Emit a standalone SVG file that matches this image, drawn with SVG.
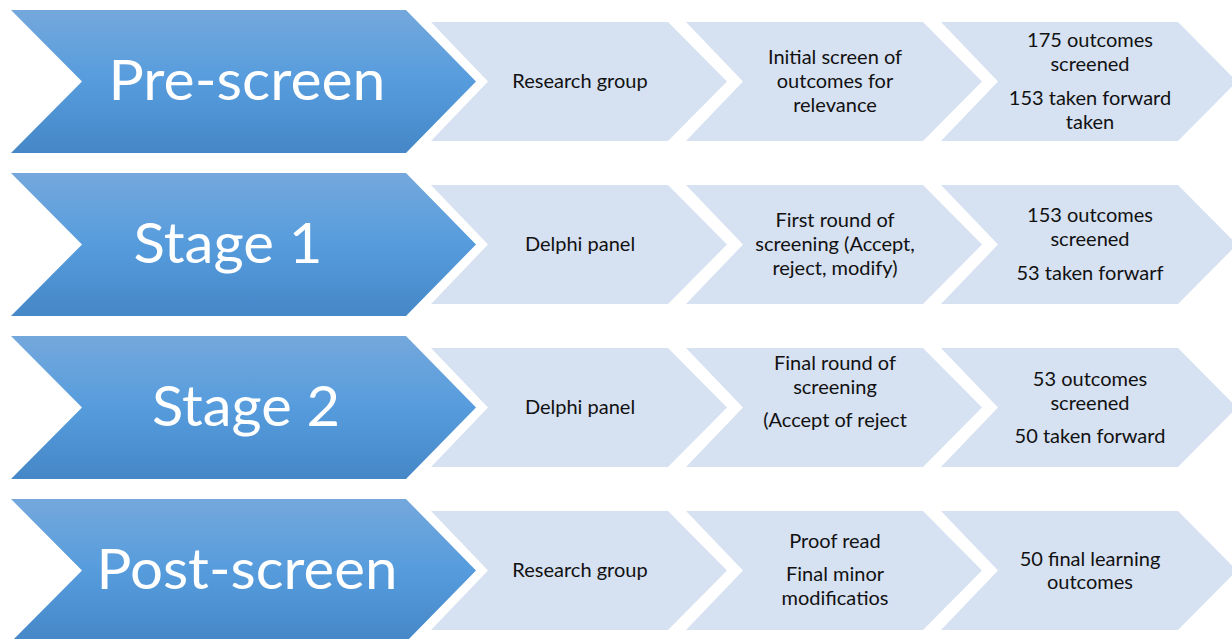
<svg xmlns="http://www.w3.org/2000/svg" width="1232" height="639" viewBox="0 0 1232 639">
<defs>
<linearGradient id="blueGrad" x1="0" y1="0" x2="0" y2="1">
<stop offset="0" stop-color="#74A8DC"/>
<stop offset="0.5" stop-color="#569CDD"/>
<stop offset="1" stop-color="#4587C7"/>
</linearGradient>
<polygon id="bigChev" points="11,10 406,10 476,81.5 406,153 11,153 82,81.5"/>
<polygon id="lightChev" points="0,22 237,22 296,81.5 237,141 0,141 57,81.5"/>
</defs>
<style>
.big{fill:url(#blueGrad);}
.light{fill:#D6E1F1;}
.bigtxt{font-family:Lato,"Liberation Sans",sans-serif;font-size:56px;fill:#FFFFFF;text-anchor:middle;}
.txt{font-family:Lato,"Liberation Sans",sans-serif;font-size:20px;fill:#111111;text-anchor:middle;}
</style>
<rect width="1232" height="639" fill="#FFFFFF"/>

<g id="row-prescreen">
<g id="prescreen-stage"><use href="#bigChev" class="big"/><text class="bigtxt" x="247" y="100" textLength="277" lengthAdjust="spacingAndGlyphs">Pre-screen</text></g>
<g id="prescreen-who"><use href="#lightChev" class="light" x="431"/><text class="txt" x="580" y="88">Research group</text></g>
<g id="prescreen-what"><use href="#lightChev" class="light" x="686"/><text class="txt" x="835" y="64">Initial screen of</text><text class="txt" x="835" y="88">outcomes for</text><text class="txt" x="835" y="112">relevance</text></g>
<g id="prescreen-result"><use href="#lightChev" class="light" x="941"/><text class="txt" x="1090" y="47">175 outcomes</text><text class="txt" x="1090" y="71">screened</text><text class="txt" x="1090" y="105">153 taken forward</text><text class="txt" x="1090" y="129">taken</text></g>
</g>

<g id="row-stage1" transform="translate(0,163)">
<g id="stage1-stage"><use href="#bigChev" class="big"/><text class="bigtxt" x="228" y="100" textLength="189" lengthAdjust="spacingAndGlyphs">Stage 1</text></g>
<g id="stage1-who"><use href="#lightChev" class="light" x="431"/><text class="txt" x="580" y="88">Delphi panel</text></g>
<g id="stage1-what"><use href="#lightChev" class="light" x="686"/><text class="txt" x="835" y="64">First round of</text><text class="txt" x="835" y="88">screening (Accept,</text><text class="txt" x="835" y="112">reject, modify)</text></g>
<g id="stage1-result"><use href="#lightChev" class="light" x="941"/><text class="txt" x="1090" y="59">153 outcomes</text><text class="txt" x="1090" y="83">screened</text><text class="txt" x="1090" y="117">53 taken forwarf</text></g>
</g>

<g id="row-stage2" transform="translate(0,326)">
<g id="stage2-stage"><use href="#bigChev" class="big"/><text class="bigtxt" x="246" y="100" textLength="188" lengthAdjust="spacingAndGlyphs">Stage 2</text></g>
<g id="stage2-who"><use href="#lightChev" class="light" x="431"/><text class="txt" x="580" y="88">Delphi panel</text></g>
<g id="stage2-what"><use href="#lightChev" class="light" x="686"/><text class="txt" x="835" y="44">Final round of</text><text class="txt" x="835" y="68">screening</text><text class="txt" x="835" y="101">(Accept of reject</text></g>
<g id="stage2-result"><use href="#lightChev" class="light" x="941"/><text class="txt" x="1090" y="60">53 outcomes</text><text class="txt" x="1090" y="84">screened</text><text class="txt" x="1090" y="117">50 taken forward</text></g>
</g>

<g id="row-postscreen" transform="translate(0,489)">
<g id="postscreen-stage"><use href="#bigChev" class="big"/><text class="bigtxt" x="247" y="100" textLength="301" lengthAdjust="spacingAndGlyphs">Post-screen</text></g>
<g id="postscreen-who"><use href="#lightChev" class="light" x="431"/><text class="txt" x="580" y="88">Research group</text></g>
<g id="postscreen-what"><use href="#lightChev" class="light" x="686"/><text class="txt" x="835" y="59">Proof read</text><text class="txt" x="835" y="92">Final minor</text><text class="txt" x="835" y="116">modificatios</text></g>
<g id="postscreen-result"><use href="#lightChev" class="light" x="941"/><text class="txt" x="1090" y="77">50 final learning</text><text class="txt" x="1090" y="100">outcomes</text></g>
</g>

<g id="connectors"></g>
</svg>
